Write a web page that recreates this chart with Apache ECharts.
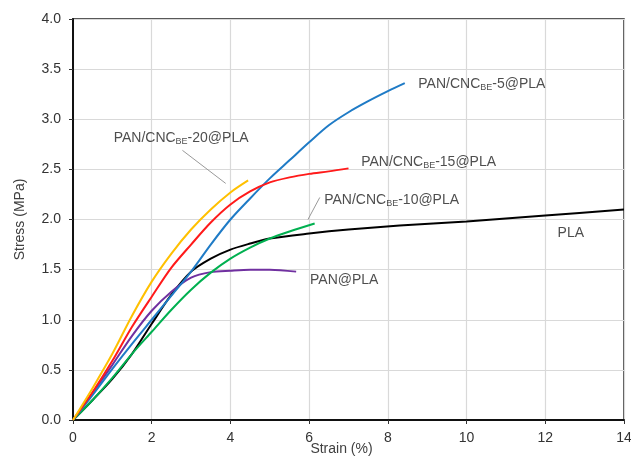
<!DOCTYPE html>
<html>
<head>
  <meta charset="utf-8">
  <title>Stress-strain</title>
  <script src="https://cdn.jsdelivr.net/npm/echarts@6/dist/echarts.min.js"></script>
  <style type="text/css">
    body { margin: 0; background: #fff; }
    #chart { width: 631px; height: 465px; }
  </style>
</head>
<body>
<div id="chart"></div>
<script>
  // 数据
  var cnc20 = [[0,0],[0.5,0.32],[1.0,0.66],[1.5,1.04],[2.0,1.38],[2.5,1.66],[3.0,1.9],[3.5,2.1],[4.0,2.27],[4.45,2.39]];
  var cnc15 = [[0,0],[0.5,0.28],[1.0,0.59],[1.5,0.93],[2.0,1.23],[2.5,1.52],[3.0,1.75],[3.5,1.97],[4.0,2.15],[4.5,2.28],[5.0,2.37],[5.5,2.42],[6.0,2.455],[6.5,2.48],[7.0,2.51]];
  var cnc5 = [[0,0],[0.5,0.25],[1.0,0.51],[1.5,0.76],[2.0,1.0],[2.5,1.24],[3.0,1.48],[3.5,1.75],[4.0,2.0],[4.5,2.21],[5.0,2.41],[5.5,2.59],[6.0,2.77],[6.5,2.94],[7.0,3.07],[7.5,3.18],[8.0,3.28],[8.43,3.36]];
  var cnc10 = [[0,0],[0.5,0.2],[1.0,0.42],[1.5,0.66],[2.0,0.88],[2.5,1.1],[3.0,1.3],[3.5,1.47],[4.0,1.61],[4.5,1.72],[5.0,1.81],[5.5,1.88],[6.14,1.96]];
  var pla = [[0,0],[0.5,0.2],[1.0,0.41],[1.5,0.66],[2.0,0.96],[2.5,1.25],[3.0,1.48],[3.5,1.61],[4.0,1.7],[4.5,1.76],[5.0,1.81],[6.0,1.86],[7.0,1.9],[8.3,1.94],[10,1.98],[12,2.04],[14,2.1]];
  var panPla = [[0,0],[0.5,0.27],[1.0,0.55],[1.5,0.84],[2.0,1.09],[2.5,1.28],[3.0,1.42],[3.5,1.475],[4.0,1.49],[4.5,1.5],[5.0,1.5],[5.67,1.48]];

  // 标注文字和位置（数据坐标，文字左端）
  var labelText = [
    '{a|PAN/CNC}{s|BE}{a|-20@PLA}',
    '{a|PAN/CNC}{s|BE}{a|-5@PLA}',
    '{a|PAN/CNC}{s|BE}{a|-15@PLA}',
    '{a|PAN/CNC}{s|BE}{a|-10@PLA}',
    '{a|PLA}',
    '{a|PAN@PLA}'
  ];
  var labelPos = [[1.02,2.81],[8.76,3.35],[7.31,2.57],[6.37,2.19],[12.3,1.86],[6.01,1.4]];
  // 引线
  var leaders = [
    [[2.78,2.69],[3.88,2.36]],
    [[6.27,2.22],[5.97,2.0]]
  ];

  var chart = echarts.init(document.getElementById('chart'));

  function curve(data, color) {
    return {
      type: 'line',
      data: data,
      smooth: 0.3,
      showSymbol: false,
      lineStyle: { color: color, width: 2 },
      itemStyle: { color: color },
      z: 3
    };
  }

  var labelData = [];
  for (var i = 0; i < labelPos.length; i++) {
    labelData.push({ value: labelPos[i], label: { formatter: labelText[i] } });
  }
  var leaderData = [];
  for (var j = 0; j < leaders.length; j++) {
    leaderData.push([{ coord: leaders[j][0] }, { coord: leaders[j][1] }]);
  }

  var option = {
    animation: false,
    grid: {
      left: 73, right: 7, top: 19, bottom: 45,
      outerBoundsMode: 'none',
      show: true, borderColor: '#222', borderWidth: 1.5
    },
    xAxis: {
      type: 'value', min: 0, max: 14, interval: 2,
      name: 'Strain (%)', nameLocation: 'middle', nameGap: 22, nameMoveOverlap: false,
      nameTextStyle: { fontFamily: 'Liberation Sans', fontSize: 14, color: '#404040', padding: [0, 14, 0, 0] },
      axisLine: { lineStyle: { color: '#111', width: 2 } },
      axisTick: { show: true, length: 4, lineStyle: { color: '#333' } },
      axisLabel: { fontFamily: 'Liberation Sans', fontSize: 14, color: '#333', margin: 11 },
      splitLine: { lineStyle: { color: '#d9d9d9', width: 1.2 } }
    },
    yAxis: {
      type: 'value', min: 0, max: 4, interval: 0.5,
      name: 'Stress (MPa)', nameLocation: 'middle', nameGap: 46, nameMoveOverlap: false,
      nameTextStyle: { fontFamily: 'Liberation Sans', fontSize: 14, color: '#404040' },
      axisLine: { show: true, lineStyle: { color: '#111', width: 2 } },
      axisTick: { show: true, length: 4, lineStyle: { color: '#333' } },
      axisLabel: {
        fontFamily: 'Liberation Sans', fontSize: 14, color: '#333', margin: 12,
        formatter: function (v) { return v.toFixed(1); }
      },
      splitLine: { lineStyle: { color: '#d9d9d9', width: 1.2 } }
    },
    series: [
      curve(pla, '#000000'),
      curve(panPla, '#7030a0'),
      curve(cnc10, '#00b050'),
      curve(cnc5, '#1f7bc6'),
      curve(cnc15, '#ff1a1a'),
      curve(cnc20, '#ffc000'),
      {
        type: 'scatter',
        data: labelData,
        symbolSize: 1,
        itemStyle: { color: 'transparent' },
        silent: true,
        z: 5,
        label: {
          show: true,
          position: 'right',
          distance: 0,
          rich: {
            a: { fontFamily: 'Liberation Sans', fontSize: 14, color: '#222', lineHeight: 16 },
            s: { fontFamily: 'Liberation Sans', fontSize: 9, color: '#222', lineHeight: 9, verticalAlign: 'bottom' }
          }
        },
        markLine: {
          silent: true,
          symbol: 'none',
          label: { show: false },
          lineStyle: { color: '#999', width: 1, type: 'solid' },
          data: leaderData
        }
      }
    ]
  };

  chart.setOption(option);
</script>
</body>
</html>
